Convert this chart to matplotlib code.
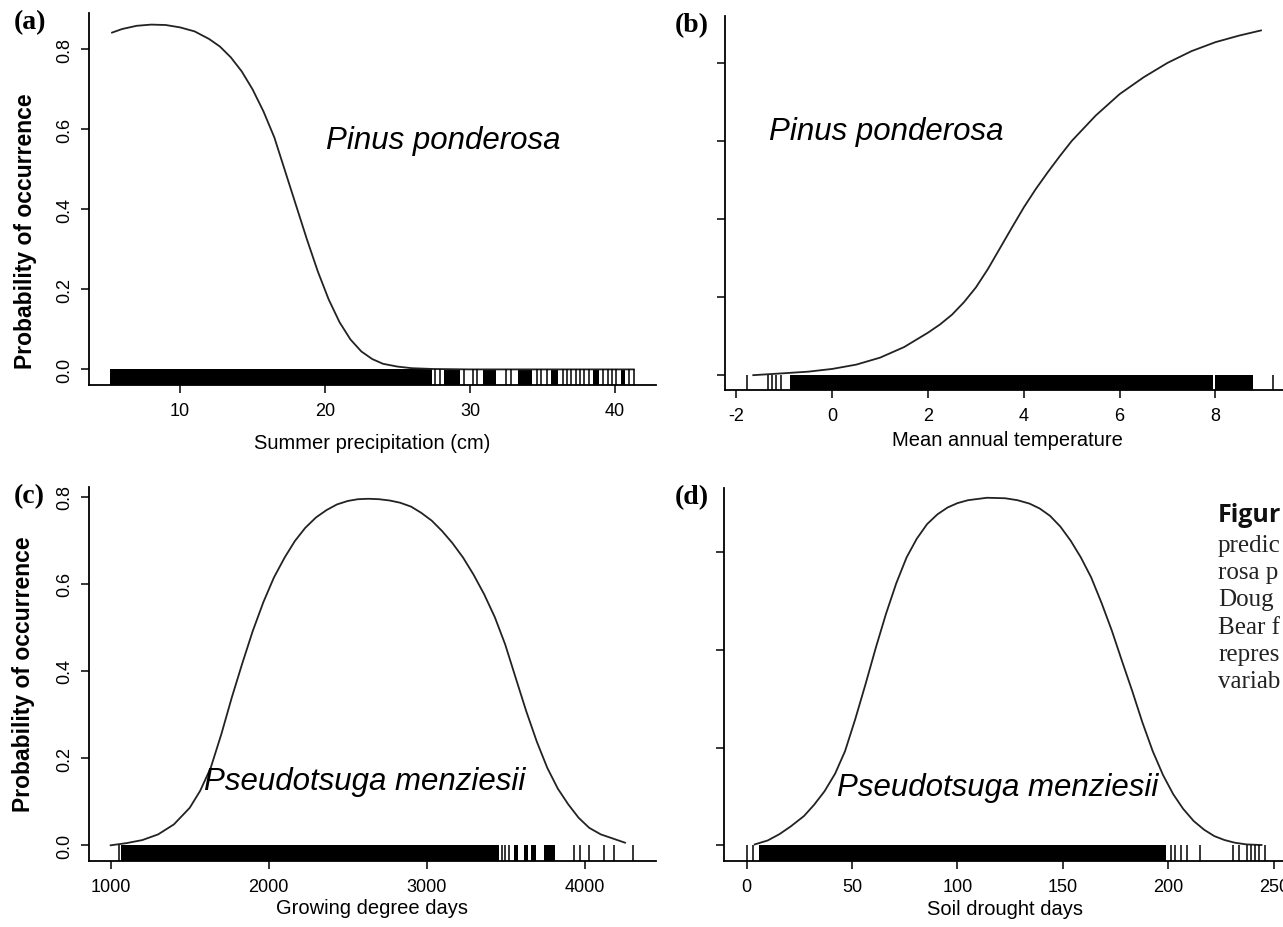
import matplotlib.pyplot as plt

plt.rcParams['font.family'] = ['Liberation Sans', 'DejaVu Sans']

# fitted probability curves
precip_x = [5.3, 6.0, 7.0, 8.0, 9.0, 10.0, 11.0, 12.0, 12.75, 13.5, 14.25, 15.0, 15.75, 16.5,
            17.25, 18.0, 18.75, 19.5, 20.25, 21.0, 21.75, 22.5, 23.25, 24.0, 25.0, 26.0,
            27.5, 30.0, 35.0, 41.3]
precip_y = [0.842, 0.851, 0.859, 0.862, 0.861, 0.855, 0.845, 0.826, 0.807, 0.78, 0.745, 0.70,
            0.645, 0.58, 0.495, 0.41, 0.325, 0.245, 0.175, 0.118, 0.075, 0.045, 0.026, 0.014,
            0.007, 0.003, 0.001, 0.0, 0.0, 0.0]

temp_x = [-1.65, -1.0, -0.5, 0.0, 0.5, 1.0, 1.5, 2.0, 2.25, 2.5, 2.75, 3.0, 3.25, 3.5, 3.75,
          4.0, 4.25, 4.5, 4.75, 5.0, 5.5, 6.0, 6.5, 7.0, 7.5, 8.0, 8.5, 8.95]
temp_y = [0.0, 0.005, 0.009, 0.016, 0.027, 0.045, 0.072, 0.109, 0.13, 0.155, 0.187, 0.225,
          0.272, 0.325, 0.378, 0.43, 0.477, 0.52, 0.561, 0.60, 0.665, 0.72, 0.763, 0.80,
          0.83, 0.853, 0.87, 0.883]

gdd_x = [1000, 1100, 1200, 1300, 1400, 1500, 1566, 1633, 1700, 1766, 1833, 1899, 1966, 2032,
         2100, 2165, 2230, 2298, 2365, 2431, 2500, 2564, 2630, 2697, 2765, 2830, 2900, 2963,
         3030, 3096, 3160, 3229, 3295, 3362, 3430, 3495, 3560, 3628, 3695, 3761, 3828, 3894,
         3960, 4027, 4100, 4160, 4253]
gdd_y = [0.0, 0.005, 0.012, 0.025, 0.048, 0.086, 0.125, 0.178, 0.255, 0.339, 0.418, 0.492,
         0.558, 0.614, 0.66, 0.698, 0.728, 0.752, 0.769, 0.782, 0.79, 0.794, 0.795, 0.794,
         0.791, 0.786, 0.777, 0.763, 0.745, 0.721, 0.694, 0.66, 0.621, 0.576, 0.523, 0.461,
         0.386, 0.308, 0.238, 0.178, 0.13, 0.094, 0.063, 0.04, 0.025, 0.0176, 0.006]

drought_x = [3.9, 10, 15.6, 21, 27.2, 32, 37.0, 42, 46.7, 51.5, 56.4, 61.3, 66.1, 71, 75.9,
             80.7, 85.6, 90.5, 95.3, 100, 105.0, 114.0, 122.6, 128.5, 134.2, 139, 143.9,
             148.8, 153.7, 158.5, 163.4, 168.3, 173.2, 178, 182.9, 187.7, 192.6, 197.5,
             202.3, 207, 212.0, 217, 221.8, 226.6, 231.5, 237, 244.2]
drought_y = [0.002, 0.01, 0.023, 0.039, 0.06, 0.083, 0.111, 0.147, 0.193, 0.258, 0.33, 0.405,
             0.474, 0.537, 0.59, 0.628, 0.658, 0.678, 0.692, 0.701, 0.707, 0.712, 0.711,
             0.707, 0.70, 0.69, 0.675, 0.653, 0.624, 0.59, 0.549, 0.497, 0.44, 0.378, 0.316,
             0.252, 0.193, 0.144, 0.105, 0.075, 0.05, 0.032, 0.019, 0.011, 0.0055, 0.002, 0.0007]

# rug of observations: dense stretches as spans, isolated ones as ticks
precip_rug_spans = [(5.15, 27.4), (28.2, 29.3), (30.9, 31.8), (33.3, 34.3), (35.6, 36.1),
                    (38.5, 38.9), (40.4, 40.7)]
precip_rug_ticks = [27.6, 27.95, 29.6, 30.2, 30.5, 32.5, 32.8, 34.6, 34.9, 35.3, 36.4, 36.7,
                    37.0, 37.3, 37.6, 37.9, 38.2, 39.2, 39.5, 39.8, 40.1, 41.0, 41.3]
temp_rug_spans = [(-0.89, 7.95), (8.0, 8.79)]
temp_rug_ticks = [-1.79, -1.34, -1.26, -1.17, -1.08, 9.2]
gdd_rug_spans = [(1068, 3459), (3554, 3575), (3613, 3638), (3659, 3691), (3743, 3813)]
gdd_rug_ticks = [1052, 3476, 3497, 3518, 3933, 3968, 4027, 4120, 4186, 4306]
drought_rug_spans = [(5.8, 199)]
drought_rug_ticks = [0.0, 2.9, 201.4, 203.3, 205.8, 209, 215, 230.5, 233.5, 237.4, 239.3,
                     241.2, 243.2, 246]

prob_ticks = [0.0, 0.2, 0.4, 0.6, 0.8]
prob_labels = ['0.0', '0.2', '0.4', '0.6', '0.8']
precip_ticks = [10, 20, 30, 40]
temp_ticks = [-2, 0, 2, 4, 6, 8]
gdd_ticks = [1000, 2000, 3000, 4000]
drought_ticks = [0, 50, 100, 150, 200, 250]

species = ['Pinus ponderosa', 'Pinus ponderosa', 'Pseudotsuga menziesii', 'Pseudotsuga menziesii']
caption_head = 'Figur'
caption_lines = ['predic', 'rosa p', 'Doug', 'Bear f', 'repres', 'variab']

W, H = 1283, 928
fig = plt.figure(figsize=(W / 100, H / 100), dpi=100)


def add_px_axes(left, right, top, bottom):
    return fig.add_axes([left / W, 1 - bottom / H, (right - left) / W, (bottom - top) / H])


def ftext(x, y, s, **kw):
    # place text by pixel position measured from the top-left corner
    return fig.text(x / W, 1 - y / H, s, **kw)


def panel(ax, cx, cy, spans, ticks, xlim, ylim, xticks, yticks, ylabels):
    ax.set_xlim(xlim)
    ax.set_ylim(ylim)
    ax.plot(cx, cy, color='#222222', lw=1.3, solid_joinstyle='round')
    ax.broken_barh([(s, e - s) for s, e in spans], (ylim[0], -ylim[0]), color='black', lw=0)
    ax.vlines(ticks, ylim[0], 0, color='black', lw=1.1)
    for s in ['top', 'right']:
        ax.spines[s].set_visible(False)
    for s in ['left', 'bottom']:
        ax.spines[s].set_linewidth(1.3)
    ax.tick_params(direction='out', length=6, width=1.1, labelsize=13)
    ax.tick_params(axis='x', pad=6)
    ax.tick_params(axis='y', pad=5, labelrotation=90)
    ax.set_xticks(xticks)
    ax.set_xticklabels([str(t) for t in xticks])
    ax.set_yticks(yticks)
    ax.set_yticklabels(ylabels)
    for lab in ax.get_yticklabels():
        lab.set_verticalalignment('center')
    ax.patch.set_alpha(0)


ax_a = add_px_axes(89, 656, 14, 386)
panel(ax_a, precip_x, precip_y, precip_rug_spans, precip_rug_ticks, (3.71, 42.84),
      (-0.039, 0.891), precip_ticks, prob_ticks, prob_labels)

ax_b = add_px_axes(725, 1294, 17, 391)
panel(ax_b, temp_x, temp_y, temp_rug_spans, temp_rug_ticks, (-2.24, 9.64),
      (-0.038, 0.92), temp_ticks, prob_ticks, [''] * 5)

ax_c = add_px_axes(89, 656, 488, 862)
panel(ax_c, gdd_x, gdd_y, gdd_rug_spans, gdd_rug_ticks, (863, 4449),
      (-0.036, 0.822), gdd_ticks, prob_ticks, prob_labels)

ax_d = add_px_axes(724, 1294, 489, 862)
panel(ax_d, drought_x, drought_y, drought_rug_spans, drought_rug_ticks, (-10.7, 259.6),
      (-0.032, 0.732), drought_ticks, prob_ticks[:4], [''] * 4)

# axis titles
xl = dict(fontsize=14.5, ha='center', va='center')
ftext(372, 444, 'Summer precipitation (cm)', **xl)
ftext(1007, 441, 'Mean annual temperature', **xl)
ftext(372, 909, 'Growing degree days', **xl)
ftext(1005, 910, 'Soil drought days', **xl)
yl = dict(fontsize=16.5, fontweight='bold', rotation=90, ha='center', va='center')
ftext(26, 231, 'Probability of occurrence', **yl)
ftext(24, 674, 'Probability of occurrence', **yl)

# species names
sp = dict(fontsize=22.5, style='italic', va='center', ha='left')
ftext(326, 141, species[0], **sp)
ftext(769, 132, species[1], **sp)
ftext(204, 782, species[2], **sp)
ftext(837, 788, species[3], **sp)

# panel letters
lt = dict(fontsize=20, fontweight='bold', family='Liberation Serif', va='top', ha='left')
ftext(14, 10, '(a)', **lt)
ftext(675, 13, '(b)', **lt)
ftext(14, 484, '(c)', **lt)
ftext(675, 485, '(d)', **lt)

# caption of the figure, clipped at the right edge
ftext(1218, 522, caption_head, fontsize=18, fontweight='bold',
      family='Open Sans', va='baseline', ha='left', color='#111111')
for i, line in enumerate(caption_lines):
    ftext(1218, 552 + 27.2 * i, line, fontsize=18,
          family='Liberation Serif', color='#222222', va='baseline', ha='left')

fig.savefig('out.png', dpi=100)
